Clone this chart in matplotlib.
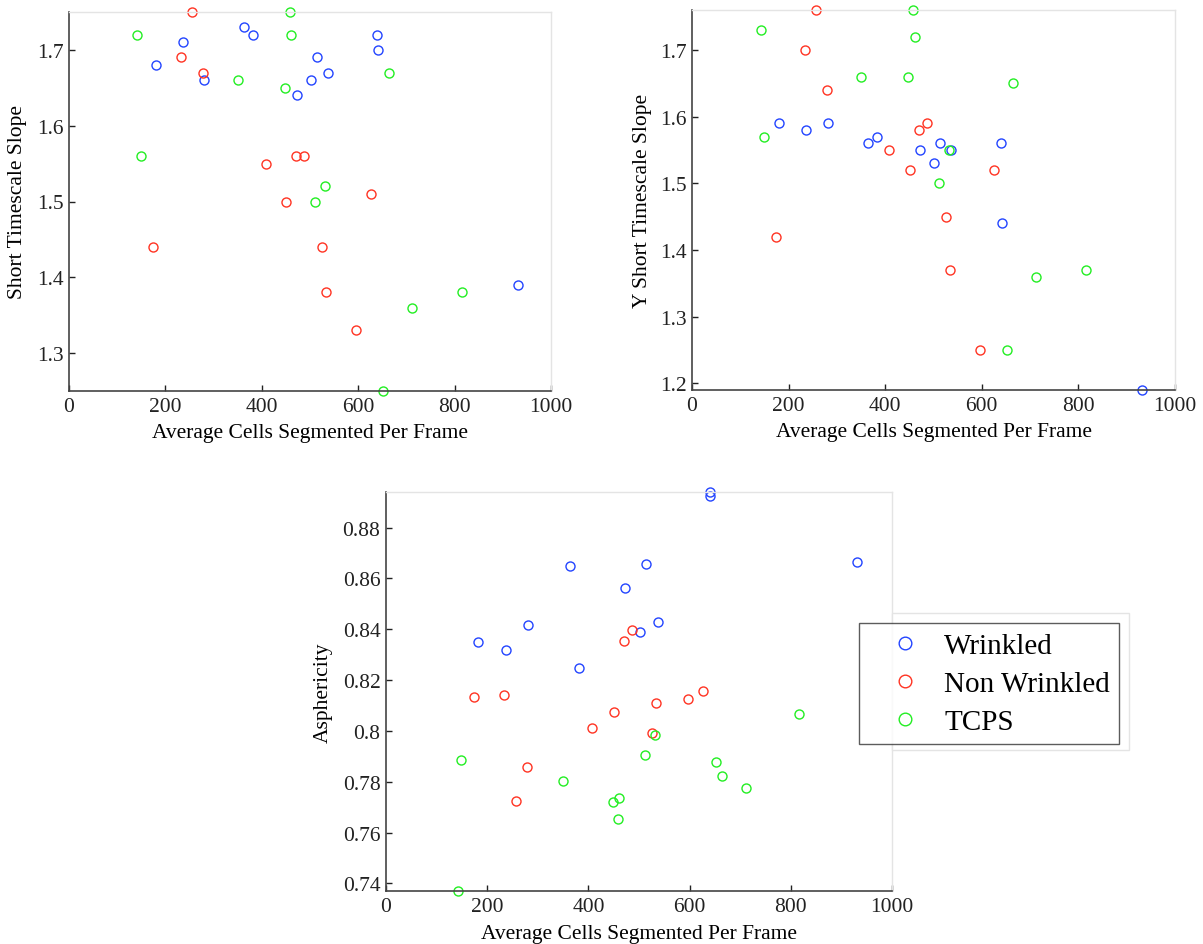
import numpy as np
import matplotlib
matplotlib.use('Agg')
import matplotlib.pyplot as plt
from matplotlib.patches import Rectangle
from matplotlib.ticker import FormatStrFormatter

plt.rcParams['font.family'] = ['Liberation Serif', 'DejaVu Serif']

# average cells segmented per frame, per group
wr_x = [181, 237, 281, 364, 382, 472, 502, 514, 537, 640, 641, 931]
nw_x = [174, 233, 256, 279, 408, 451, 471, 487, 525, 534, 596, 626]
tc_x = [142, 149, 350, 448, 458, 461, 511, 532, 652, 664, 712, 816]

# short timescale slope
wr_slope = [1.68, 1.71, 1.66, 1.73, 1.72, 1.64, 1.66, 1.69, 1.67, 1.72, 1.70, 1.39]
nw_slope = [1.44, 1.69, 1.75, 1.67, 1.55, 1.50, 1.56, 1.56, 1.44, 1.38, 1.33, 1.51]
tc_slope = [1.72, 1.56, 1.66, 1.65, 1.75, 1.72, 1.50, 1.52, 1.25, 1.67, 1.36, 1.38]

# Y short timescale slope
wr_yslope = [1.59, 1.58, 1.59, 1.56, 1.57, 1.55, 1.53, 1.56, 1.55, 1.56, 1.44, 1.19]
nw_yslope = [1.42, 1.70, 1.76, 1.64, 1.55, 1.52, 1.58, 1.59, 1.45, 1.37, 1.25, 1.52]
tc_yslope = [1.73, 1.57, 1.66, 1.66, 1.76, 1.72, 1.50, 1.55, 1.25, 1.65, 1.36, 1.37]

# asphericity
wr_asph = [0.8351, 0.8320, 0.8416, 0.8649, 0.8249, 0.8563, 0.8388, 0.8658, 0.8430, 0.8940, 0.8925, 0.8664]
nw_asph = [0.8135, 0.8140, 0.7725, 0.7859, 0.8011, 0.8074, 0.8355, 0.8397, 0.7992, 0.8111, 0.8126, 0.8158]
tc_asph = [0.7370, 0.7887, 0.7803, 0.7720, 0.7652, 0.7735, 0.7905, 0.7982, 0.7876, 0.7822, 0.7777, 0.8065]

labels = ['Wrinkled', 'Non Wrinkled', 'TCPS']
colors = ['#2244ff', '#ff3322', '#22ee22']
xticks = [0, 200, 400, 600, 800, 1000]

W, H = 1203, 945
fig = plt.figure(figsize=(W / 100, H / 100), dpi=100)


def px_axes(x0, y0, x1, y1):
	return fig.add_axes([x0 / W, 1 - y1 / H, (x1 - x0) / W, (y1 - y0) / H])


def style(ax, ylim, yticks, ylabel, ylab_x, xlab_y, fmt):
	ax.set_xlim(0, 1000)
	ax.set_ylim(*ylim)
	ax.set_xticks(xticks)
	ax.set_yticks(yticks)
	ax.yaxis.set_major_formatter(FormatStrFormatter(fmt))
	ax.tick_params(direction='in', length=4, width=1, labelsize=15.5, colors='#222222',
		top=False, right=False, pad=4)
	for s in ['left', 'bottom']:
		ax.spines[s].set_color('#444444')
		ax.spines[s].set_linewidth(1.2)
	for s in ['top', 'right']:
		ax.spines[s].set_color('#e4e4e4')
		ax.spines[s].set_linewidth(1.0)
	ax.set_xlabel('Average Cells Segmented Per Frame', fontsize=15.5)
	ax.set_ylabel(ylabel, fontsize=15.5)
	ax.yaxis.set_label_coords(ylab_x, 0.5)
	ax.xaxis.set_label_coords(0.5, xlab_y)


def scatter_groups(ax, xs, ys):
	for x, y, c, lab in zip(xs, ys, colors, labels):
		ax.plot(x, y, 'o', mfc='none', mec=c, mew=1.0, ms=6.5, label=lab, clip_on=False)


ax1 = px_axes(69, 13, 551, 392)
scatter_groups(ax1, [wr_x, nw_x, tc_x], [wr_slope, nw_slope, tc_slope])
style(ax1, (1.25, 1.75), [1.3, 1.4, 1.5, 1.6, 1.7], 'Short Timescale Slope', -0.088, -0.085, '%g')

ax2 = px_axes(692, 11, 1175, 391)
scatter_groups(ax2, [wr_x, nw_x, tc_x], [wr_yslope, nw_yslope, tc_yslope])
style(ax2, (1.19, 1.76), [1.2, 1.3, 1.4, 1.5, 1.6, 1.7], 'Y Short Timescale Slope', -0.082, -0.085, '%g')

ax3 = px_axes(386, 493, 892, 892)
scatter_groups(ax3, [wr_x, nw_x, tc_x], [wr_asph, nw_asph, tc_asph])
style(ax3, (0.737, 0.894), [0.74, 0.76, 0.78, 0.80, 0.82, 0.84, 0.86, 0.88], 'Asphericity', -0.106, -0.082, '%g')

# white patch behind the legend (light grey outline)
fig.patches.append(Rectangle((892 / W, 1 - 751 / H), (1129 - 892) / W, (751 - 614) / H,
	transform=fig.transFigure, facecolor='white', edgecolor='#e4e4e4', lw=1.0, zorder=5))

handles, labs = ax3.get_legend_handles_labels()
leg = fig.legend(handles, labs, loc='upper left', bbox_to_anchor=(859 / W, 1 - 624 / H),
	fontsize=21, frameon=True, fancybox=False, borderaxespad=0, borderpad=0.32,
	labelspacing=0.4, handlelength=2.5, handletextpad=0.1, markerscale=1.4)
leg.get_frame().set_edgecolor('#333333')
leg.get_frame().set_linewidth(1.0)
leg.set_zorder(10)

fig.savefig('out.png', dpi=100)
